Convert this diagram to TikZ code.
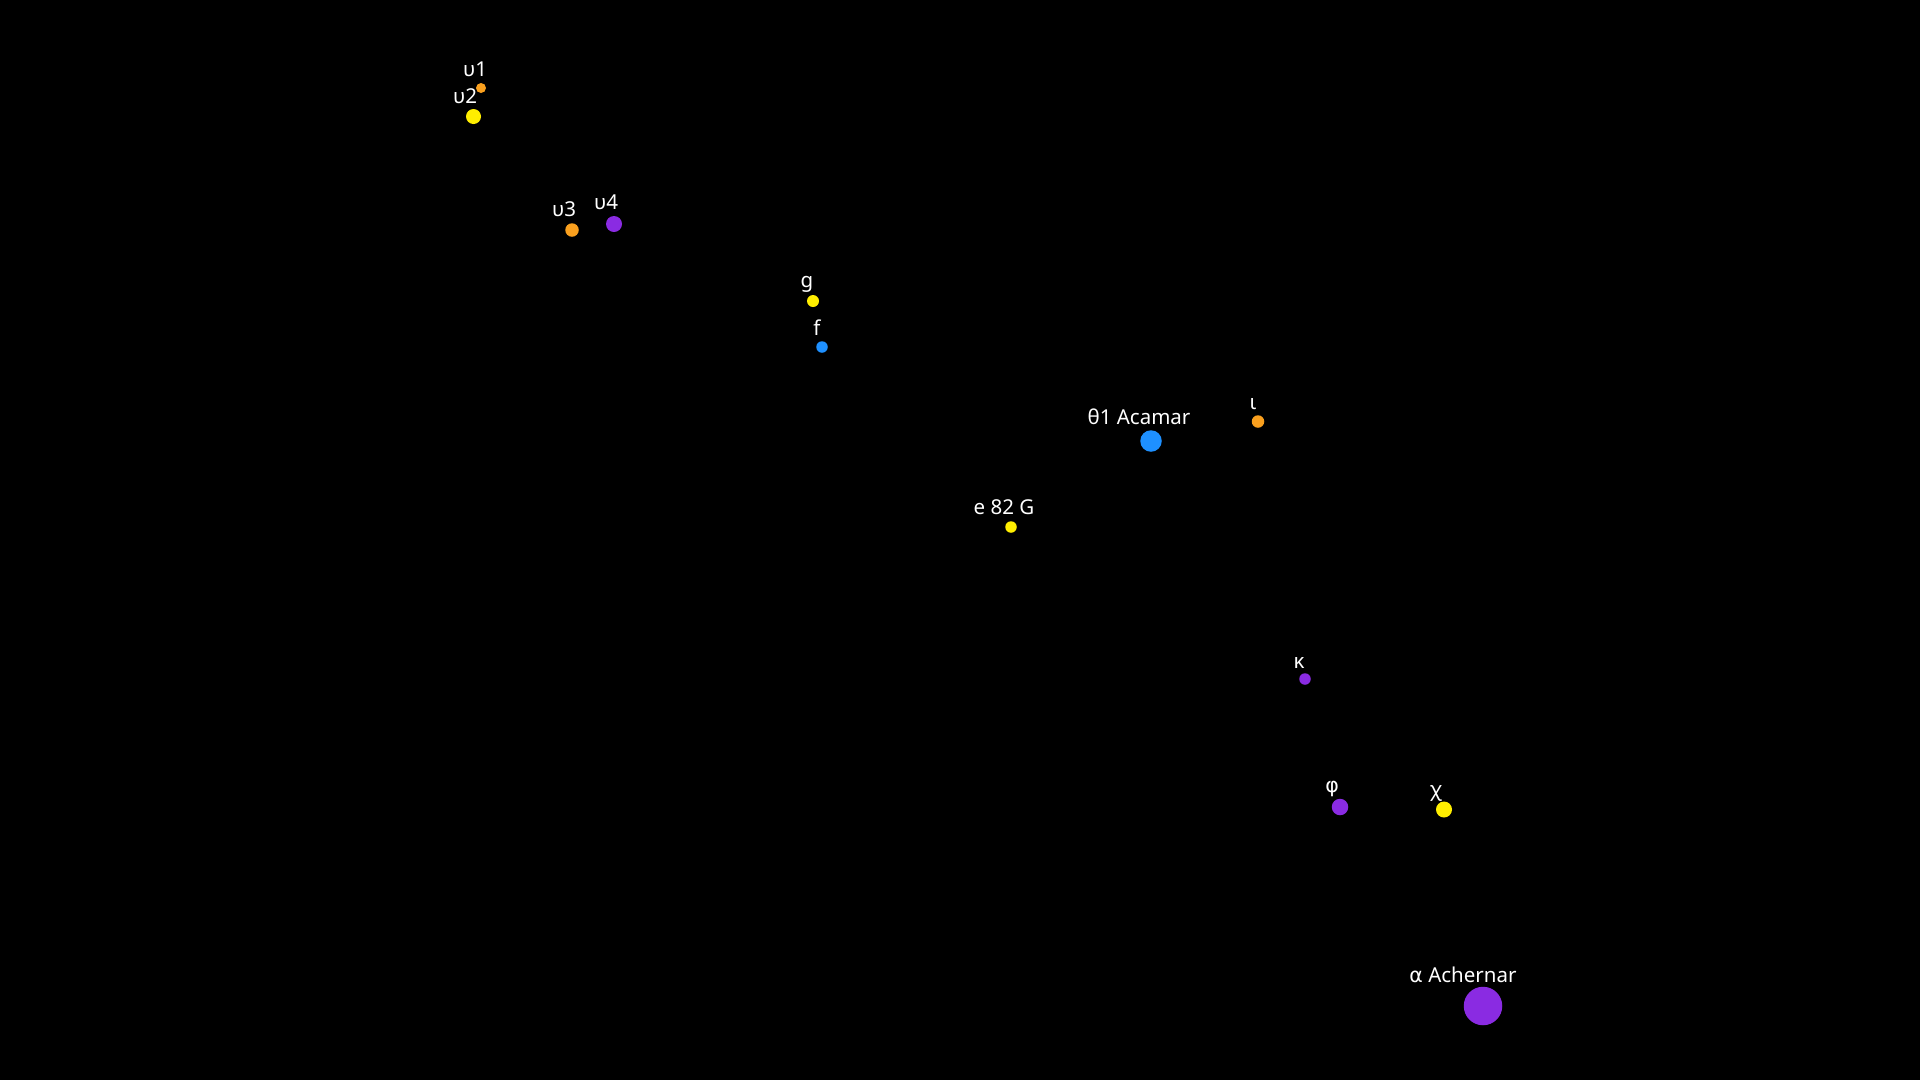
\documentclass[tikz,border=0pt]{standalone}
\usepackage{fontspec}
\setmainfont{Noto Sans}
\newfontfamily\phifont{DejaVu Sans}
\definecolor{sorange}{RGB}{250,160,30}
\definecolor{syellow}{RGB}{255,238,0}
\definecolor{sblue}{RGB}{30,144,255}
\definecolor{spurple}{RGB}{138,43,226}
\tikzset{
  starpt/.style={circle, fill=#1, draw=none, inner sep=0pt},
  starlbl/.style={text=white, anchor=base, inner sep=0pt, font=\fontsize{20.5}{24}\selectfont},
}
\begin{document}
\begin{tikzpicture}[x=1pt,y=-1pt]
\fill[black] (0,0) rectangle (1920,1080);
\useasboundingbox (0,0) rectangle (1920,1080);
% stars
\node[starpt=sorange, minimum size=10pt] (u1) at (481,88) {};
\node[starpt=syellow, minimum size=15pt] (u2) at (473.5,116.5) {};
\node[starpt=sorange, minimum size=13.5pt] (u3) at (572,230) {};
\node[starpt=spurple, minimum size=16pt] (u4) at (614,224) {};
\node[starpt=syellow, minimum size=12pt] (g) at (813,301) {};
\node[starpt=sblue, minimum size=11.5pt] (f) at (822,347) {};
\node[starpt=sblue, minimum size=21.5pt] (acamar) at (1151,441) {};
\node[starpt=sorange, minimum size=12.5pt] (iota) at (1258,421.5) {};
\node[starpt=syellow, minimum size=11.5pt] (e82) at (1011,527) {};
\node[starpt=spurple, minimum size=11.5pt] (kappa) at (1305,679) {};
\node[starpt=spurple, minimum size=16.5pt] (phi) at (1340,807) {};
\node[starpt=syellow, minimum size=16pt] (chi) at (1444,809.5) {};
\node[starpt=spurple, minimum size=38.5pt] (achernar) at (1483,1006) {};
% labels
\node[starlbl] (lu1) at (475,76) {υ1};
\node[starlbl] (lu2) at (465,103.5) {υ2};
\node[starlbl] (lu3) at (564,216) {υ3};
\node[starlbl] (lu4) at (606,209.5) {υ4};
\node[starlbl] (lg) at (807,287.5) {g};
\node[starlbl] (lf) at (817,335.5) {f};
\node[starlbl] (lacamar) at (1139,424) {θ1 Acamar};
\node[starlbl] (liota) at (1253,409) {ι};
\node[starlbl] (le82) at (1004,514.5) {e 82 G};
\node[starlbl] (lkappa) at (1299,668) {κ};
\node[starlbl] (lphi) at (1332,792.5) {\phifont φ};
\node[starlbl] (lchi) at (1436,796) {χ};
\node[starlbl] (lachernar) at (1463,982) {{\phifont α} Achernar};
\end{tikzpicture}
\end{document}
